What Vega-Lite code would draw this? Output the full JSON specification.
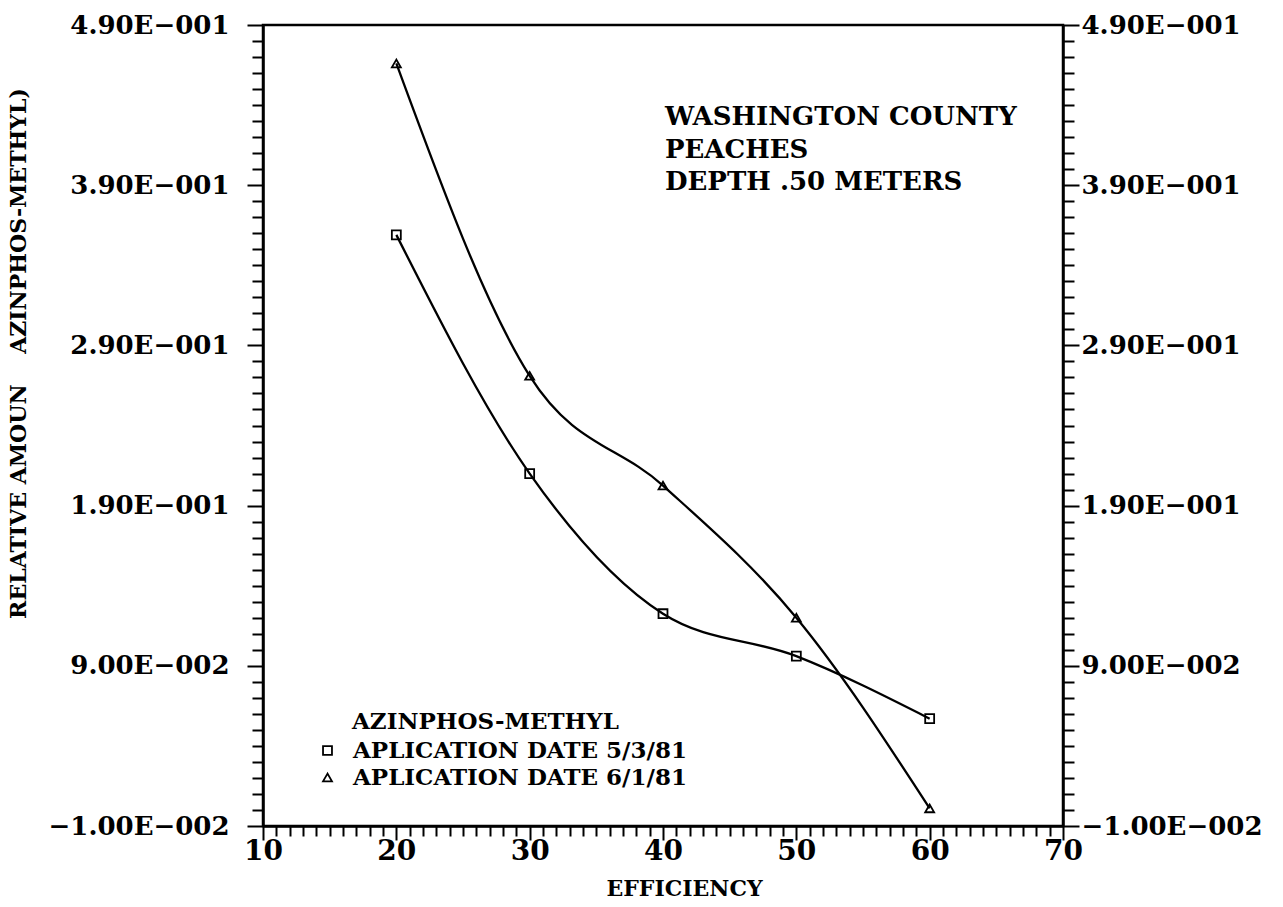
{
  "$schema": "https://vega.github.io/schema/vega-lite/v6.json",
  "autosize": "none",
  "width": 800,
  "height": 801,
  "padding": {"left": 263, "top": 25, "right": 220, "bottom": 81},
  "background": "white",
  "config": {
    "view": {"stroke": "black", "strokeWidth": 2.5},
    "axis": {
      "domainColor": "black", "domainWidth": 2.5, "tickColor": "black", "tickWidth": 2,
      "grid": false, "labelColor": "black", "titleColor": "black",
      "labelFont": "DejaVu Serif", "labelFontWeight": "bold", "titleFont": "DejaVu Serif", "titleFontWeight": "bold",
      "labelOverlap": false, "labelBound": false, "labelFlush": false, "labelLimit": 0
    }
  },
  "data": {"values": [
    {"efficiency": 20, "amount": 0.359, "series": "APLICATION DATE 5/3/81"},
    {"efficiency": 30, "amount": 0.21, "series": "APLICATION DATE 5/3/81"},
    {"efficiency": 40, "amount": 0.1225, "series": "APLICATION DATE 5/3/81"},
    {"efficiency": 50, "amount": 0.096, "series": "APLICATION DATE 5/3/81"},
    {"efficiency": 60, "amount": 0.057, "series": "APLICATION DATE 5/3/81"},
    {"efficiency": 20, "amount": 0.466, "series": "APLICATION DATE 6/1/81"},
    {"efficiency": 30, "amount": 0.271, "series": "APLICATION DATE 6/1/81"},
    {"efficiency": 40, "amount": 0.2025, "series": "APLICATION DATE 6/1/81"},
    {"efficiency": 50, "amount": 0.12, "series": "APLICATION DATE 6/1/81"},
    {"efficiency": 60, "amount": 0.001, "series": "APLICATION DATE 6/1/81"}
  ]},
  "encoding": {
    "x": {"field": "efficiency", "type": "quantitative",
      "scale": {"domain": [10, 70], "nice": false, "zero": false},
      "axis": {
        "orient": "bottom",
        "values": [10,11,12,13,14,15,16,17,18,19,20,21,22,23,24,25,26,27,28,29,30,31,32,33,34,35,36,37,38,39,40,41,42,43,44,45,46,47,48,49,50,51,52,53,54,55,56,57,58,59,60,61,62,63,64,65,66,67,68,69,70],
        "labelExpr": "datum.value % 10 == 0 ? datum.label : ''",
        "tickSize": {"condition": {"test": "datum.value % 10 == 0", "value": 14}, "value": 10},
        "labelFontSize": 28, "labelPadding": -3,
        "title": "EFFICIENCY", "titleFontSize": 22, "titlePadding": 13, "titleX": 421
      }
    }
  },
  "resolve": {"axis": {"y": "independent"}},
  "layer": [
    {
      "mark": {"type": "line", "interpolate": "monotone", "color": "black", "strokeWidth": 2.3},
      "encoding": {
        "y": {"field": "amount", "type": "quantitative",
          "scale": {"domain": [-0.01, 0.49], "nice": false, "zero": false},
          "axis": {
            "orient": "left",
            "values": [-0.01,0,0.01,0.02,0.03,0.04,0.05,0.06,0.07,0.08,0.09,0.1,0.11,0.12,0.13,0.14,0.15,0.16,0.17,0.18,0.19,0.2,0.21,0.22,0.23,0.24,0.25,0.26,0.27,0.28,0.29,0.3,0.31,0.32,0.33,0.34,0.35,0.36,0.37,0.38,0.39,0.4,0.41,0.42,0.43,0.44,0.45,0.46,0.47,0.48,0.49],
            "labelExpr": "round(datum.value*100+1) % 10 != 0 ? '' : (abs(round(datum.value*100)) < 10 ? format(round(datum.value*100), '.2f') + 'E\u2212002' : format(round(datum.value*100)/10, '.2f') + 'E\u2212001')",
            "tickSize": {"condition": {"test": "round(datum.value*100+1) % 10 == 0", "value": 16}, "value": 11},
            "labelFontSize": 26, "labelPadding": 18,
            "title": "RELATIVE AMOUN\u00a0\u00a0\u00a0\u00a0AZINPHOS-METHYL)",
            "titleFontSize": 22, "titleAngle": -90, "titleX": -245, "titleY": 328,
            "titleAlign": "center", "titleBaseline": "middle"
          }
        },
        "detail": {"field": "series"}
      }
    },
    {
      "mark": {"type": "point", "filled": false, "color": "black", "size": 80, "strokeWidth": 1.8, "opacity": 1},
      "encoding": {
        "y": {"field": "amount", "type": "quantitative",
          "axis": {
            "orient": "right",
            "values": [-0.01,0,0.01,0.02,0.03,0.04,0.05,0.06,0.07,0.08,0.09,0.1,0.11,0.12,0.13,0.14,0.15,0.16,0.17,0.18,0.19,0.2,0.21,0.22,0.23,0.24,0.25,0.26,0.27,0.28,0.29,0.3,0.31,0.32,0.33,0.34,0.35,0.36,0.37,0.38,0.39,0.4,0.41,0.42,0.43,0.44,0.45,0.46,0.47,0.48,0.49],
            "labelExpr": "round(datum.value*100+1) % 10 != 0 ? '' : (abs(round(datum.value*100)) < 10 ? format(round(datum.value*100), '.2f') + 'E\u2212002' : format(round(datum.value*100)/10, '.2f') + 'E\u2212001')",
            "tickSize": {"condition": {"test": "round(datum.value*100+1) % 10 == 0", "value": 16}, "value": 11},
            "labelFontSize": 26, "labelPadding": 2,
            "title": null
          }
        },
        "shape": {"field": "series", "type": "nominal",
          "scale": {"domain": ["APLICATION DATE 5/3/81", "APLICATION DATE 6/1/81"], "range": ["square", "triangle-up"]},
          "legend": {
            "orient": "none", "legendX": 53, "legendY": 714, "title": null,
            "labelFont": "DejaVu Serif", "labelFontWeight": "bold", "labelFontSize": 23, "labelColor": "black",
            "labelOffset": 14, "rowPadding": 3, "labelLimit": 0,
            "symbolSize": 80, "symbolStrokeColor": "black", "symbolStrokeWidth": 1.8, "symbolFillColor": "transparent"
          }
        }
      }
    },
    {
      "data": {"values": [
        {"efficiency": 40.15, "amount": 0.4275, "text": "WASHINGTON COUNTY", "kind": "note"},
        {"efficiency": 40.15, "amount": 0.4069, "text": "PEACHES", "kind": "note"},
        {"efficiency": 40.15, "amount": 0.3869, "text": "DEPTH .50 METERS", "kind": "note"},
        {"efficiency": 16.675, "amount": 0.0506, "text": "AZINPHOS-METHYL", "kind": "legend"}
      ]},
      "mark": {"type": "text", "align": "left", "baseline": "alphabetic", "font": "DejaVu Serif", "fontWeight": "bold", "color": "black"},
      "encoding": {
        "y": {"field": "amount", "type": "quantitative", "axis": null},
        "text": {"field": "text"},
        "size": {"condition": {"test": "datum.kind == 'legend'", "value": 23}, "value": 26},
        "opacity": {"value": 1}
      }
    }
  ]
}
